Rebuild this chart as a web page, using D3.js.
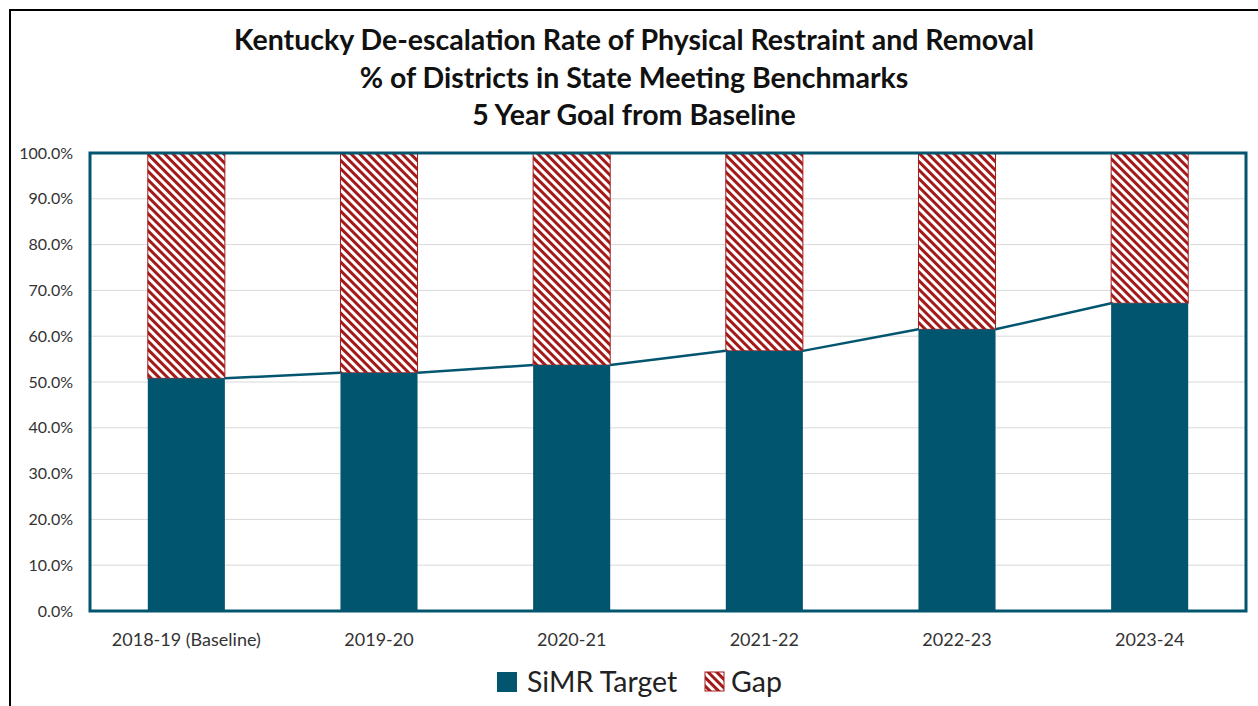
<!DOCTYPE html>
<html>
<head>
<meta charset="utf-8">
<script src="https://cdn.jsdelivr.net/npm/d3@7"></script>
<style>
  body { margin: 0; background: #fff; }
  text { font-family: Lato, "Open Sans", sans-serif; }
</style>
</head>
<body>
<div id="chart"></div>
<script>
var width = 1258;
var height = 706;
var margin = {top: 153, left: 90, right: 12, bottom: 95};

var years = ["2018-19 (Baseline)", "2019-20", "2020-21", "2021-22", "2022-23", "2023-24"];
var target = [50.8, 52.0, 53.7, 56.8, 61.5, 67.2];
var yTicks = [0, 10, 20, 30, 40, 50, 60, 70, 80, 90, 100];
var titleLines = [
  "Kentucky De-escalation Rate of Physical Restraint and Removal",
  "% of Districts in State Meeting Benchmarks",
  "5 Year Goal from Baseline"
];

var teal = "#02556f";
var red = "#a31a1a";

var svg = d3.select("#chart")
  .append("svg")
  .attr("width", width)
  .attr("height", height);

var defs = svg.append("defs");
var pat = defs.append("pattern")
  .attr("id", "hatch")
  .attr("patternUnits", "userSpaceOnUse")
  .attr("width", 6)
  .attr("height", 6)
  .attr("patternTransform", "rotate(-45)");
pat.append("rect").attr("width", 6).attr("height", 6).attr("fill", "#fff");
pat.append("rect").attr("x", 0).attr("width", 3).attr("height", 6).attr("fill", red);

// outer frame
svg.append("rect")
  .attr("x", 10).attr("y", 10)
  .attr("width", width).attr("height", height)
  .attr("fill", "none")
  .attr("stroke", "#000")
  .attr("stroke-width", 2);

var xScale = d3.scaleBand()
  .domain(years)
  .range([margin.left, width - margin.right])
  .paddingInner(0.6)
  .paddingOuter(0.3);

var yScale = d3.scaleLinear()
  .domain([0, 100])
  .range([height - margin.bottom, margin.top]);

// gridlines
svg.append("g")
  .selectAll("line")
  .data(yTicks)
  .enter()
  .append("line")
    .attr("x1", margin.left)
    .attr("x2", width - margin.right)
    .attr("y1", function(d) { return yScale(d); })
    .attr("y2", function(d) { return yScale(d); })
    .attr("stroke", "#d9d9d9")
    .attr("stroke-width", 1);

// y labels
var yAxis = svg.append("g")
  .attr("transform", `translate(${margin.left - 14},0)`)
  .call(d3.axisLeft(yScale).tickValues(yTicks).tickSize(0).tickFormat(function(d) { return d.toFixed(1) + "%"; }));
yAxis.select(".domain").remove();
yAxis.selectAll("text")
  .attr("font-size", 16)
  .attr("fill", "#333")
  .attr("font-family", "Lato, 'Open Sans', sans-serif");

// x labels
var xAxis = svg.append("g")
  .attr("transform", `translate(0,${height - margin.bottom + 19})`)
  .call(d3.axisBottom(xScale).tickSize(0));
xAxis.select(".domain").remove();
xAxis.selectAll("text")
  .attr("font-size", 18)
  .attr("fill", "#333")
  .attr("font-family", "Lato, 'Open Sans', sans-serif");

// gap bars
svg.append("g")
  .selectAll("rect")
  .data(target)
  .enter()
  .append("rect")
    .attr("x", function(d, i) { return xScale(years[i]); })
    .attr("y", yScale(100))
    .attr("width", xScale.bandwidth())
    .attr("height", function(d) { return yScale(d) - yScale(100); })
    .attr("fill", "url(#hatch)")
    .attr("stroke", red)
    .attr("stroke-width", 1);

// target bars
svg.append("g")
  .selectAll("rect")
  .data(target)
  .enter()
  .append("rect")
    .attr("x", function(d, i) { return xScale(years[i]); })
    .attr("y", function(d) { return yScale(d); })
    .attr("width", xScale.bandwidth())
    .attr("height", function(d) { return yScale(0) - yScale(d); })
    .attr("fill", teal);

// series lines
svg.append("g")
  .selectAll("line")
  .data(target.slice(1))
  .enter()
  .append("line")
    .attr("x1", function(d, i) { return xScale(years[i]) + xScale.bandwidth(); })
    .attr("y1", function(d, i) { return yScale(target[i]); })
    .attr("x2", function(d, i) { return xScale(years[i + 1]); })
    .attr("y2", function(d) { return yScale(d); })
    .attr("stroke", teal)
    .attr("stroke-width", 2.5);

// plot frame
svg.append("rect")
  .attr("x", margin.left)
  .attr("y", margin.top)
  .attr("width", width - margin.right - margin.left)
  .attr("height", height - margin.bottom - margin.top)
  .attr("fill", "none")
  .attr("stroke", teal)
  .attr("stroke-width", 3);

// title
svg.append("g")
  .selectAll("text")
  .data(titleLines)
  .enter()
  .append("text")
    .attr("x", 634)
    .attr("y", function(d, i) { return 50 + i * 37.5; })
    .attr("text-anchor", "middle")
    .attr("font-size", 28.5)
    .attr("font-weight", "bold")
    .attr("fill", "#111")
    .text(function(d) { return d; });

// legend
var legend = svg.append("g");
legend.append("rect")
  .attr("x", 497).attr("y", 672).attr("width", 20).attr("height", 20)
  .attr("fill", teal);
legend.append("text")
  .attr("x", 527).attr("y", 692)
  .attr("font-size", 28.5).attr("fill", "#222")
  .text("SiMR Target");
legend.append("rect")
  .attr("x", 705).attr("y", 672).attr("width", 19).attr("height", 19)
  .attr("fill", "url(#hatch)").attr("stroke", red).attr("stroke-width", 1);
legend.append("text")
  .attr("x", 731).attr("y", 692)
  .attr("font-size", 28.5).attr("fill", "#222")
  .text("Gap");
</script>
</body>
</html>
